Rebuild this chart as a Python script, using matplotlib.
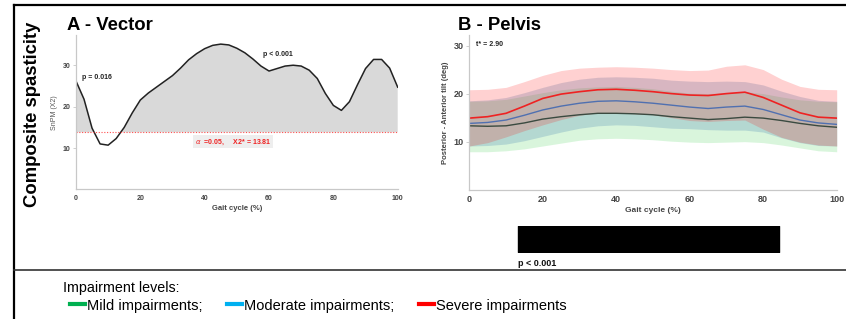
import numpy as np
import matplotlib
matplotlib.use("Agg")
import matplotlib.pyplot as plt
from matplotlib.lines import Line2D

plt.rcParams['font.family'] = ['Liberation Sans', 'DejaVu Sans']

# ---------------- data ----------------
vec_x = [0, 2.5, 5, 7.5, 10, 12.5, 15, 17.5, 20, 22.5, 25, 27.5, 30, 32.5, 35, 37.5,
         40, 42.5, 45, 47.5, 50, 52.5, 55, 57.5, 60, 62.5, 65, 67.5, 70, 72.5, 75,
         77.5, 80, 82.5, 85, 87.5, 90, 92.5, 95, 97.5, 100]
vec_snpm = [26.2, 21.8, 14.8, 11.0, 10.7, 12.3, 15.0, 18.5, 21.6, 23.3, 24.7, 26.1,
            27.5, 29.3, 31.3, 32.8, 34.0, 34.8, 35.1, 34.9, 34.1, 33.0, 31.5, 29.8,
            28.6, 29.2, 29.8, 30.0, 29.8, 28.8, 26.8, 23.2, 20.3, 19.1, 21.2, 25.3,
            29.2, 31.4, 31.4, 29.3, 24.7]
vec_threshold = 13.81

pel_x = [0, 5, 10, 15, 20, 25, 30, 35, 40, 45, 50, 55, 60, 65, 70, 75, 80, 85, 90, 95, 100]
severe_mean = [14.9, 15.2, 15.9, 17.4, 19.0, 19.9, 20.4, 20.8, 20.9, 20.7, 20.4, 20.0,
               19.7, 19.6, 20.0, 20.3, 19.2, 17.6, 16.0, 15.1, 14.9]
severe_up = [20.8, 20.9, 21.3, 22.5, 23.8, 24.8, 25.3, 25.5, 25.6, 25.5, 25.3, 25.0,
             24.8, 24.9, 25.7, 26.0, 25.0, 23.0, 21.5, 20.9, 20.8]
severe_lo = [9.1, 9.8, 11.0, 12.3, 13.5, 14.6, 15.5, 16.0, 16.0, 15.8, 15.6, 15.0,
             14.4, 14.2, 14.4, 14.5, 12.6, 10.9, 9.9, 9.3, 9.1]
moderate_mean = [13.8, 14.0, 14.5, 15.5, 16.6, 17.4, 18.0, 18.4, 18.5, 18.3, 18.0, 17.6,
                 17.2, 16.9, 17.2, 17.4, 16.7, 15.6, 14.5, 13.9, 13.6]
moderate_up = [18.5, 18.7, 19.2, 20.2, 21.3, 22.3, 23.0, 23.4, 23.5, 23.4, 23.2, 22.8,
               22.6, 22.5, 22.6, 22.5, 21.8, 20.5, 19.4, 18.6, 18.4]
moderate_lo = [9.1, 9.2, 9.5, 10.2, 11.1, 12.0, 12.8, 13.3, 13.5, 13.4, 13.1, 12.8,
               12.7, 12.5, 12.4, 12.4, 12.0, 10.8, 9.8, 9.2, 9.1]
mild_mean = [13.3, 13.2, 13.3, 13.9, 14.7, 15.2, 15.6, 15.9, 15.9, 15.8, 15.6, 15.2,
             14.9, 14.6, 14.8, 15.1, 14.9, 14.4, 13.8, 13.3, 13.0]
mild_up = [18.4, 18.5, 18.8, 19.5, 20.2, 20.8, 21.2, 21.4, 21.5, 21.3, 21.0, 20.5,
           20.1, 20.0, 20.2, 20.4, 20.0, 19.3, 18.7, 18.4, 18.3]
mild_lo = [7.9, 7.9, 8.1, 8.5, 9.1, 9.7, 10.3, 10.6, 10.7, 10.6, 10.4, 10.1,
           9.9, 9.8, 9.9, 10.0, 9.8, 9.3, 8.7, 8.1, 7.9]

sig_cluster = (13.3, 84.3)   # significant region (% gait cycle)

x_ticks = [0, 20, 40, 60, 80, 100]
y_ticks = [10, 20, 30]

# ---------------- figure ----------------
fig = plt.figure(figsize=(8.46, 3.19), dpi=100)

spine_col = '#c8c8c8'
tick_col = '#444444'


def style_axes(ax, fs):
    for s in ['top', 'right']:
        ax.spines[s].set_visible(False)
    for s in ['left', 'bottom']:
        ax.spines[s].set_color(spine_col)
        ax.spines[s].set_linewidth(0.9)
    ax.set_xticks(x_ticks)
    ax.set_yticks(y_ticks)
    ax.tick_params(axis='y', length=2, width=0.6, color=spine_col, pad=2,
                   labelsize=fs, labelcolor=tick_col)
    ax.tick_params(axis='x', length=0, pad=4, labelsize=fs, labelcolor=tick_col)
    for lab in ax.get_xticklabels() + ax.get_yticklabels():
        lab.set_fontweight('bold')


# Panel A
axA = fig.add_axes([0.0898, 0.406, 0.3803, 0.4843])
xa = np.array(vec_x)
ya = np.array(vec_snpm)
axA.fill_between(xa, vec_threshold, ya, where=ya >= vec_threshold, interpolate=True,
                 color='#d9d9d9', lw=0)
axA.plot(xa, ya, color='#222222', lw=1.1, solid_joinstyle='round')
axA.axhline(vec_threshold, color='#ff5050', lw=0.8, ls=(0, (1, 1.5)))
axA.set_xlim(0, 100)
axA.set_ylim(0, 37.3)
style_axes(axA, 5)
axA.set_xlabel('Gait cycle (%)', fontsize=5.5, color=tick_col, fontweight='bold', labelpad=2)
axA.set_ylabel('SnPM (X2)', fontsize=5, color='#555555', labelpad=3)
axA.text(1.8, 27.1, 'p = 0.016', fontsize=5, fontweight='bold', color='#222222', va='center')
axA.text(58, 32.7, 'p < 0.001', fontsize=5, fontweight='bold', color='#222222', va='center')
axA.text(37, 11.5, r'$\alpha$  =0.05,     X2* = 13.81', fontsize=5, fontweight='bold',
         color='#ee2222', va='center',
         bbox=dict(boxstyle='square,pad=0.25', fc='#eeeeee', ec='none'))

# Panel B
axB = fig.add_axes([0.5547, 0.4053, 0.4343, 0.485])
xb = np.array(pel_x)
axB.fill_between(xb, mild_lo, mild_up, color='#2ecc40', alpha=0.18, lw=0)
axB.fill_between(xb, moderate_lo, moderate_up, color='#4682b4', alpha=0.25, lw=0)
axB.fill_between(xb, severe_lo, severe_up, color='#ff0000', alpha=0.18, lw=0)
axB.plot(xb, mild_mean, color='#3a4a40', lw=1.0)
axB.plot(xb, moderate_mean, color='#5070b0', lw=1.0)
axB.plot(xb, severe_mean, color='#ee2222', lw=1.2)
axB.set_xlim(0, 100)
axB.set_ylim(0, 32.2)
style_axes(axB, 6.5)
axB.set_xlabel('Gait cycle (%)', fontsize=6, color=tick_col, fontweight='bold', labelpad=2)
axB.set_ylabel('Posterior - Anterior tilt (deg)', fontsize=5.5, color=tick_col,
               fontweight='bold', labelpad=3)
axB.text(1.8, 30.3, 't* = 2.90', fontsize=5, fontweight='bold', color='#222222', va='center')

# significance bar
axS = fig.add_axes([0.5547, 0.211, 0.4343, 0.0815])
axS.set_xlim(0, 100)
axS.set_ylim(0, 1)
axS.broken_barh([(sig_cluster[0], sig_cluster[1] - sig_cluster[0])], (0, 1), color='black')
axS.axis('off')
axS.text(sig_cluster[0], -0.45, 'p < 0.001', fontsize=6.5, fontweight='bold',
         color='#111111', va='center', ha='left')

# titles
fig.text(0.0792, 0.9216, 'A - Vector', fontsize=13.3, fontweight='bold', va='center')
fig.text(0.5414, 0.9216, 'B - Pelvis', fontsize=13.3, fontweight='bold', va='center')
fig.text(0.039, 0.643, 'Composite spasticity', fontsize=13.3, fontweight='bold',
         rotation=90, ha='center', va='center')

# frame lines
fig.add_artist(Line2D([0.01655, 1.0], [0.9843, 0.9843], color='black', lw=1.6))
fig.add_artist(Line2D([0.01655, 0.01655], [0.0, 0.9843], color='black', lw=1.6))
fig.add_artist(Line2D([0.01655, 1.0], [0.1536, 0.1536], color='#333333', lw=1.2))

# legend
narrow = ['Liberation Sans Narrow', 'Liberation Sans', 'DejaVu Sans']
fig.text(0.0745, 0.097, 'Impairment levels:', fontsize=10.3, family=narrow, va='center')
handles = [Line2D([], [], color='#00b050', lw=3),
           Line2D([], [], color='#00b0f0', lw=3),
           Line2D([], [], color='#ff0000', lw=3)]
labels = ['Mild impairments;', 'Moderate impairments;', 'Severe impairments']
fig.legend(handles, labels, loc='center left', bbox_to_anchor=(0.083, 0.042),
           ncol=3, frameon=False, handlelength=1.0, handletextpad=0.15,
           columnspacing=1.7, borderaxespad=0, borderpad=0,
           prop={'family': narrow, 'size': 10.5})

fig.savefig('out.png', dpi=100)
